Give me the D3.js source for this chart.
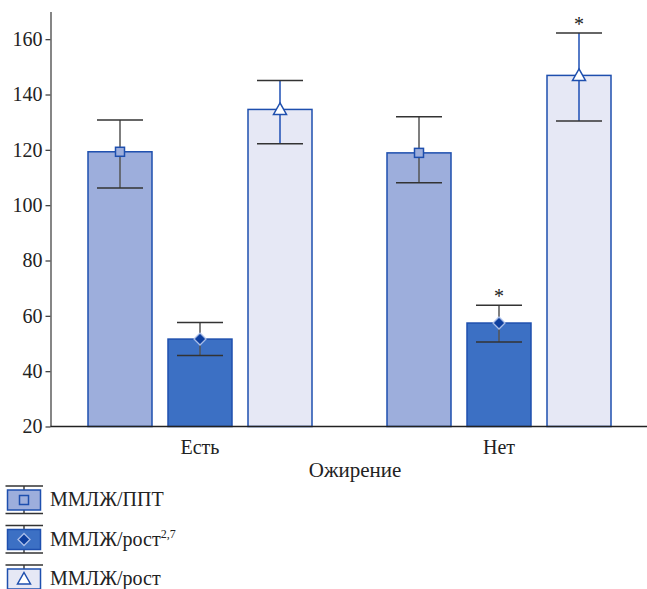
<!DOCTYPE html>
<html><head><meta charset="utf-8">
<script src="https://cdn.jsdelivr.net/npm/d3@7"></script>
<style>body{margin:0;background:#fff}svg{display:block}</style>
</head><body>
<script>
const groups = ["Есть", "Нет"];
const seriesNames = ["ММЛЖ/ППТ", "ММЛЖ/рост2,7", "ММЛЖ/рост"];
const means = [[119.3, 51.6, 134.6], [118.9, 57.4, 146.9]];
const errLow = [[106.2, 45.7, 122.2], [108.1, 50.5, 130.4]];
const errHigh = [[130.8, 57.6, 145.1], [132.0, 63.8, 162.2]];
const stars = [[false, false, false], [false, true, true]];
const yTicks = [20, 40, 60, 80, 100, 120, 140, 160];
const xTitle = "Ожирение";

const W = 647, H = 589;
const FONT = "'Liberation Serif'";
const fills = ["#9DAEDC", "#3C70C4", "#E6E8F5"];
const strokeBlue = "#1E4FAE";
const svg = d3.select("body").append("svg").attr("width", W).attr("height", H)
  .style("font-family", FONT, "important");

const y = d3.scaleLinear().domain([20, 170]).range([426.5, 11.5]);
const x0 = d3.scaleBand().domain(groups).range([50.5, 648.5]).padding(0);
const x1 = d3.scaleBand().domain(d3.range(3)).range([29.5, 269.5]).paddingInner(0.2).paddingOuter(0.1);

function txt(sel) { return sel.attr("font-family", "Liberation Serif").style("font-family", FONT, "important").style("fill", "#222"); }

// y axis
const yAxis = svg.append("g").attr("transform", "translate(50.5,0)")
  .call(d3.axisLeft(y).tickValues(yTicks).tickSize(5).tickSizeOuter(0).tickPadding(3));
yAxis.attr("font-family", "Liberation Serif");
yAxis.select(".domain").attr("stroke", "#444").attr("stroke-width", 1.3);
yAxis.selectAll(".tick line").attr("stroke", "#444").attr("stroke-width", 1.3);
txt(yAxis.selectAll(".tick text")).style("font-size", "20px");

function drawMarker(sel, si, cx, cy) {
  if (si === 0) {
    sel.append("rect").attr("x", cx - 4.5).attr("y", cy - 4.5).attr("width", 9).attr("height", 9)
      .attr("fill", "#9DAEDC").attr("stroke", strokeBlue).attr("stroke-width", 1.5);
  } else if (si === 1) {
    sel.append("path").attr("d", `M${cx},${cy - 6}L${cx + 6},${cy}L${cx},${cy + 6}L${cx - 6},${cy}Z`)
      .attr("fill", "#0E3F9F").attr("stroke", "#A9BDE8").attr("stroke-width", 1.3);
  } else {
    sel.append("path").attr("d", `M${cx},${cy - 6.5}L${cx + 6.5},${cy + 5}L${cx - 6.5},${cy + 5}Z`)
      .attr("fill", "#fff").attr("stroke", strokeBlue).attr("stroke-width", 1.5);
  }
}

// bars
groups.forEach((g, gi) => {
  const gx = x0(g);
  const gg = svg.append("g").attr("transform", `translate(${gx},0)`);
  d3.range(3).forEach(si => {
    const bx = x1(si), bw = x1.bandwidth(), cx = bx + bw / 2;
    gg.append("rect").attr("x", bx).attr("y", y(means[gi][si]))
      .attr("width", bw).attr("height", y(20) - y(means[gi][si]))
      .attr("fill", fills[si]).attr("stroke", strokeBlue).attr("stroke-width", 1.5);
    const vcol = si === 2 ? "#1E4FB5" : "#555";
    gg.append("line").attr("x1", cx).attr("x2", cx)
      .attr("y1", y(errHigh[gi][si])).attr("y2", y(errLow[gi][si]))
      .attr("stroke", vcol).attr("stroke-width", 1.5);
    [errHigh[gi][si], errLow[gi][si]].forEach(v => {
      gg.append("line").attr("x1", cx - 23).attr("x2", cx + 23)
        .attr("y1", y(v)).attr("y2", y(v)).attr("stroke", "#333").attr("stroke-width", 1.5);
    });
    drawMarker(gg, si, cx, y(means[gi][si]));
    if (stars[gi][si]) {
      txt(gg.append("text").attr("x", cx).attr("y", y(errHigh[gi][si]) - 2)
        .attr("text-anchor", "middle").style("font-size", "20px").text("*"));
    }
  });
});

// x axis line
svg.append("line").attr("x1", 50.5).attr("x2", W).attr("y1", 426.5).attr("y2", 426.5)
  .attr("stroke", "#222").attr("stroke-width", 1.5);
groups.forEach(g => {
  txt(svg.append("text").attr("x", x0(g) + x0.bandwidth() / 2).attr("y", 454)
    .attr("text-anchor", "middle").style("font-size", "20px").text(g));
});
txt(svg.append("text").attr("x", 355).attr("y", 477).attr("text-anchor", "middle")
  .style("font-size", "21px").text(xTitle));

// legend
const legY = [490, 529.5, 569];
seriesNames.forEach((name, si) => {
  const top = legY[si];
  const lg = svg.append("g");
  lg.append("line").attr("x1", 5.5).attr("x2", 43).attr("y1", top - 4).attr("y2", top - 4).attr("stroke", "#333").attr("stroke-width", 1.4);
  lg.append("line").attr("x1", 5.5).attr("x2", 43).attr("y1", top + 23.5).attr("y2", top + 23.5).attr("stroke", "#333").attr("stroke-width", 1.4);
  lg.append("line").attr("x1", 24).attr("x2", 24).attr("y1", top - 4).attr("y2", top + 23.5).attr("stroke", "#333").attr("stroke-width", 1.4);
  lg.append("rect").attr("x", 7.5).attr("y", top).attr("width", 33).attr("height", 20)
    .attr("fill", fills[si]).attr("stroke", strokeBlue).attr("stroke-width", 1.5);
  drawMarker(lg, si, 24, top + 10);
  const t = txt(lg.append("text").attr("x", 50).attr("y", top + 16).style("font-size", "20px"));
  if (si === 1) {
    t.append("tspan").text("ММЛЖ/рост");
    t.append("tspan").style("font-size", "12px").attr("dy", -8).text("2,7");
  } else {
    t.text(name);
  }
});
</script></body></html>
